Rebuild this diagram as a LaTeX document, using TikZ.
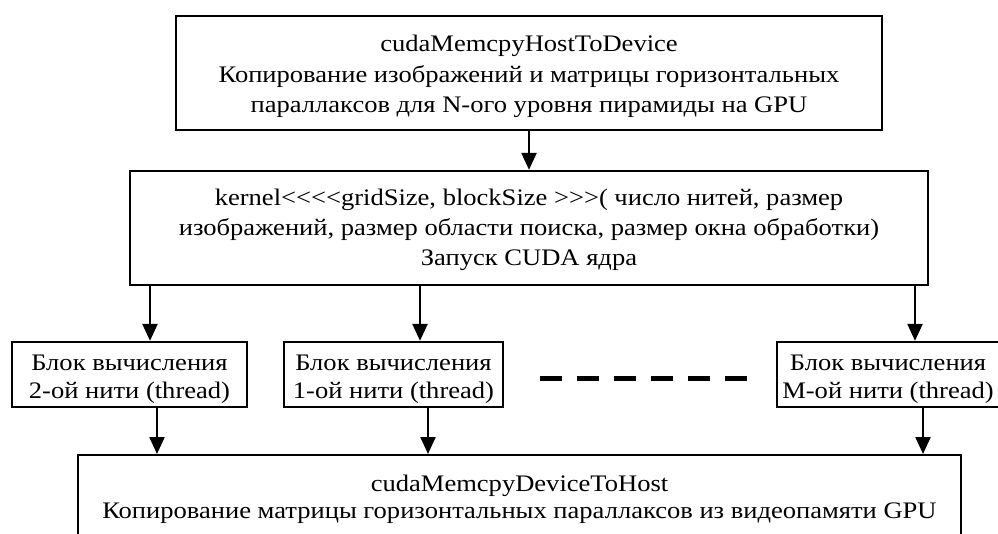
\documentclass[tikz,border=0pt]{standalone}
\usepackage{fontspec}
\setmainfont{Liberation Serif}[Ligatures=TeXOff, FakeStretch=1.12]
\usetikzlibrary{arrows.meta}
\newcommand\hstrut[1]{\rule{0pt}{#1pt}}
\newcommand\dstrut[1]{\rule[-#1pt]{0pt}{#1pt}}
\begin{document}
\begin{tikzpicture}[x=1pt,y=-1pt,
  box/.style={draw, line width=2.3pt, align=center, inner xsep=0pt, inner ysep=0pt},
  fnt/.style={font=\fontsize{23.7}{#1}\selectfont},
  arr/.style={line width=2.3pt, -{Triangle[length=17pt,width=15pt]}},
  dashline/.style={line width=5pt, dash pattern=on 22pt off 15pt}]
\useasboundingbox (0,0) rectangle (998,533);
\clip (0,0) rectangle (998,533);
\node[box, fnt=30.6, minimum width=706pt, minimum height=114pt] (top) at (529,73)
  {\hstrut{24.7}cudaMemcpyHostToDevice\\Копирование изображений и матрицы горизонтальных\\параллаксов для N-ого уровня пирамиды на GPU\dstrut{6}};
\node[box, fnt=30, minimum width=798pt, minimum height=114pt] (kernel) at (529,228)
  {\hstrut{20}kernel<<<<gridSize, blockSize >>>( число нитей, размер\\изображений, размер области поиска, размер окна обработки)\\Запуск CUDA ядра\dstrut{6}};
\node[box, fnt=28.5, minimum width=235pt, minimum height=65pt] (t1) at (129.5,374.5)
  {\hstrut{25.5}Блок вычисления\\2-ой нити (thread)\dstrut{6}};
\node[box, fnt=28.5, minimum width=219pt, minimum height=65pt] (t2) at (393.5,374.5)
  {\hstrut{25.5}Блок вычисления\\1-ой нити (thread)\dstrut{6}};
\node[box, fnt=28.5, minimum width=222pt, minimum height=65pt] (t3) at (888,374.5)
  {\hstrut{25.5}Блок вычисления\\М-ой нити (thread)\dstrut{6}};
\node[box, fnt=27, anchor=north, minimum width=883pt] (bot) at (519.5,454)
  {\hstrut{36}cudaMemcpyDeviceToHost\\Копирование матрицы горизонтальных параллаксов из видеопамяти GPU\dstrut{20}};
\coordinate (a1) at (150,0);
\coordinate (a2) at (420,0);
\coordinate (a3) at (915,0);
\coordinate (b1) at (157,0);
\coordinate (b2) at (428,0);
\coordinate (b3) at (923,0);
\coordinate (d1) at (540,378);
\coordinate (d2) at (747,378);
\draw[arr] (top.south) -- (kernel.north);
\draw[arr] (kernel.south -| a1) -- (t1.north -| a1);
\draw[arr] (kernel.south -| a2) -- (t2.north -| a2);
\draw[arr] (kernel.south -| a3) -- (t3.north -| a3);
\draw[arr] (t1.south -| b1) -- (bot.north -| b1);
\draw[arr] (t2.south -| b2) -- (bot.north -| b2);
\draw[arr] (t3.south -| b3) -- (bot.north -| b3);
\draw[dashline] (d1) -- (d2);
\end{tikzpicture}
\end{document}
